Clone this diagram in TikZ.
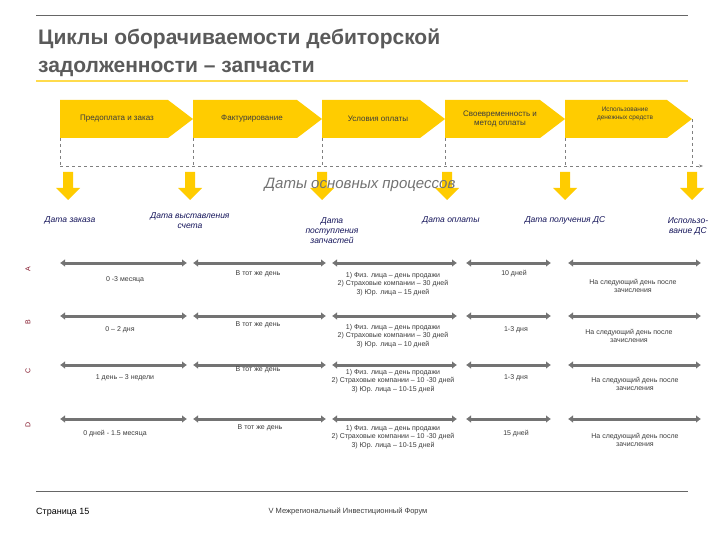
\documentclass[tikz,border=0pt]{standalone}
\usepackage{fontspec}
\setmainfont{Liberation Sans}
\usetikzlibrary{arrows.meta}
\definecolor{ttl}{RGB}{90,90,90}
\definecolor{yel}{RGB}{255,204,0}
\definecolor{navy}{RGB}{20,20,90}
\definecolor{rowc}{RGB}{130,20,40}
\definecolor{txt}{RGB}{60,60,60}
\begin{document}
\begin{tikzpicture}[x=1pt,y=-1pt,
  small/.style={font=\fontsize{7}{8.5}\selectfont,text=txt,align=center,inner sep=0},
  date/.style={font=\fontsize{8.5}{10}\selectfont\itshape,text=navy,align=center,inner sep=0},
  chev/.style={font=\fontsize{8}{9.5}\selectfont,text=txt,align=center,inner sep=0},
  rowl/.style={font=\fontsize{7}{8}\selectfont,text=rowc,rotate=90,inner sep=0},
  darr/.style={draw=gray!90!black,line width=3pt,{Latex[length=5pt,width=8pt]}-{Latex[length=5pt,width=8pt]}},
  yarr/.style={fill=yel,draw=none},
  dsh/.style={draw=gray,dashed,line width=0.6pt}]
\useasboundingbox (0,0) rectangle (720,540);
\fill[white] (0,0) rectangle (720,540);
% rules
\draw[gray!80!black,line width=0.6pt] (36,15) -- (688,15);
\draw[yel!70!white,line width=1.5pt] (36,81) -- (688,81);
\draw[gray!80!black,line width=0.6pt] (36,491) -- (688,491);
\node[anchor=west,inner sep=0,text=ttl,align=left,font=\fontsize{21}{28}\selectfont\bfseries] (title) at (38,53) {Циклы оборачиваемости дебиторской\\задолженности – запчасти};
% chevrons
\foreach \a/\b [count=\i] in {60/193,193/322,322/445,445/565,565/692}{
  \fill[yel] (\a,100) -- (\b-25,100) -- (\b,119) -- (\b-25,138) -- (\a,138) -- cycle;
  \coordinate (v\i) at (\a,138);
}
\coordinate (v6) at (692,119);
\node[chev] (c1) at (117,119) {Предоплата и заказ};
\node[chev] (c2) at (252,119) {Фактурирование};
\node[chev] (c3) at (378,119) {Условия оплаты};
\node[chev] (c4) at (500,119) {Своевременность и\\метод оплаты};
\node[chev,font=\fontsize{6.5}{8}\selectfont] (c5) at (625,114) {Использование\\денежных средств};
% dashed timeline
\coordinate (h0) at (60,166);
\coordinate (h1) at (703,166);
\foreach \i in {1,...,5}{\draw[dsh] (v\i) -- (v\i |- h0);}
\draw[dsh] (v6) -- (v6 |- h0);
\draw[dsh,-{Stealth[length=4pt]}] (h0) -- (h1);
% yellow arrows
\foreach \x in {68,190,322,447,565,692}{
  \fill[yarr] (\x-5,172) -- (\x+5,172) -- (\x+5,188) -- (\x+12,188) -- (\x,200) -- (\x-12,188) -- (\x-5,188) -- cycle;
}
\node[inner sep=0,font=\fontsize{15}{17}\selectfont\itshape,text=gray!90!black] (dp) at (360,185) {Даты основных процессов};
\node[date] (d1) at (70,220) {Дата заказа};
\node[date] (d2) at (190,221) {Дата выставления\\счета};
\node[date] (d3) at (332,231) {Дата\\поступления\\запчастей};
\node[date] (d4) at (451,220) {Дата оплаты};
\node[date] (d5) at (565,220) {Дата получения ДС};
\node[date] (d6) at (688,226) {Использо-\\вание ДС};
% rows
\foreach \y/\l in {263/A,316/B,365/C,419/D}{
  \node[rowl] at (28,\y+6) {\l};
  \foreach \a/\b in {60/187,193/326,332/457,466/551,568/701}{
    \draw[darr] (\a,\y) -- (\b,\y);
  }
}
% row A
\node[small] (a1) at (125,280) {0 -3 месяца};
\node[small] (a2) at (258,274) {В тот же день};
\node[small] (a3) at (393,284) {1) Физ. лица – день продажи\\2) Страховые компании – 30 дней\\3) Юр. лица – 15 дней};
\node[small] (a4) at (514,274) {10 дней};
\node[small] (a5) at (633,286) {На следующий день после\\зачисления};
% row B
\node[small] (b1) at (120,330) {0 – 2 дня};
\node[small] (b2) at (258,325) {В тот же день};
\node[small] (b3) at (393,336) {1) Физ. лица – день продажи\\2) Страховые компании – 30 дней\\3) Юр. лица – 10 дней};
\node[small] (b4) at (516,330) {1-3 дня};
\node[small] (b5) at (629,336) {На следующий день после\\зачисления};
% row C
\node[small] (e1) at (125,378) {1 день – 3 недели};
\node[small] (e2) at (258,370) {В тот же день};
\node[small] (e3) at (393,381) {1) Физ. лица – день продажи\\2) Страховые компании – 10 -30 дней\\3) Юр. лица – 10-15 дней};
\node[small] (e4) at (516,378) {1-3 дня};
\node[small] (e5) at (635,384) {На следующий день после\\зачисления};
% row D
\node[small] (f1) at (115,434) {0 дней - 1.5 месяца};
\node[small] (f2) at (260,428) {В тот же день};
\node[small] (f3) at (393,437) {1) Физ. лица – день продажи\\2) Страховые компании – 10 -30 дней\\3) Юр. лица – 10-15 дней};
\node[small] (f4) at (516,434) {15 дней};
\node[small] (f5) at (635,440) {На следующий день после\\зачисления};
% footer
\node[anchor=west,inner sep=0,font=\fontsize{9}{10}\selectfont,text=black] (pg) at (36,512) {Страница 15};
\node[inner sep=0,font=\fontsize{7.5}{9}\selectfont,text=txt] (ft) at (348,511) {V Межрегиональный Инвестиционный Форум};
\end{tikzpicture}
\end{document}
